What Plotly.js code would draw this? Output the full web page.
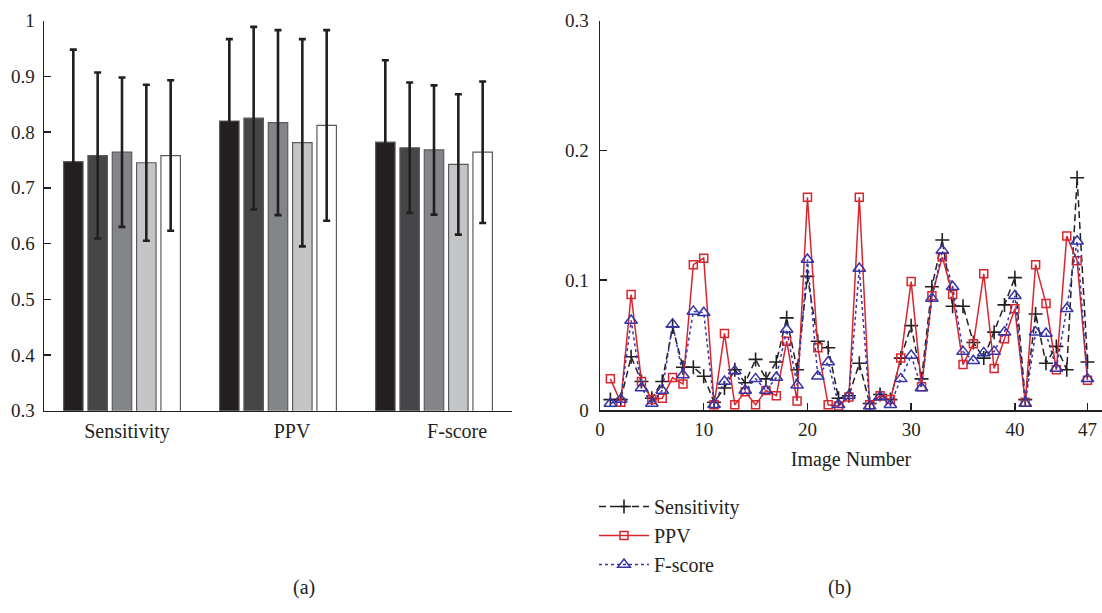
<!DOCTYPE html>
<html>
<head>
<meta charset="utf-8">
<script src="https://cdn.plot.ly/plotly-3.0.1.min.js"></script>
<style>html,body{margin:0;padding:0;background:#fff;}#chart{width:1102px;height:613px;}</style>
</head>
<body>
<div id="chart"></div>
<script>
// ---- Panel (a): bar chart data ----
const categories = ['Sensitivity', 'PPV', 'F-score'];
const method1 = [0.747, 0.820, 0.782];
const method2 = [0.758, 0.825, 0.772];
const method3 = [0.764, 0.817, 0.768];
const method4 = [0.745, 0.781, 0.742];
const method5 = [0.758, 0.812, 0.764];
const err1 = [0.201, 0.147, 0.147];
const err2 = [0.149, 0.164, 0.117];
const err3 = [0.134, 0.166, 0.116];
const err4 = [0.140, 0.186, 0.126];
const err5 = [0.135, 0.171, 0.127];
const leftYTicks = [0.3, 0.4, 0.5, 0.6, 0.7, 0.8, 0.9, 1];

// ---- Panel (b): per-image data ----
const imageNumbers = Array.from({length: 47}, (_, i) => i + 1);
const sensitivity = [0.008,0.008,0.041,0.022,0.009,0.022,0.064,0.033,0.033,0.026,
  0.006,0.017,0.031,0.021,0.039,0.024,0.037,0.071,0.031,0.103,
  0.053,0.048,0.009,0.011,0.036,0.005,0.012,0.008,0.040,0.065,
  0.024,0.095,0.131,0.080,0.080,0.052,0.040,0.060,0.081,0.102,
  0.008,0.074,0.036,0.049,0.031,0.179,0.037];
const ppv = [0.024,0.006,0.089,0.022,0.008,0.009,0.025,0.020,0.112,0.117,
  0.004,0.059,0.004,0.014,0.004,0.015,0.011,0.053,0.007,0.164,
  0.048,0.004,0.003,0.010,0.164,0.004,0.011,0.008,0.040,0.099,
  0.018,0.088,0.118,0.089,0.035,0.051,0.105,0.032,0.055,0.078,
  0.006,0.112,0.082,0.031,0.134,0.115,0.023];
const fscore = [0.005,0.008,0.069,0.017,0.005,0.015,0.066,0.027,0.076,0.075,
  0.004,0.022,0.030,0.015,0.024,0.015,0.025,0.062,0.019,0.116,
  0.026,0.037,0.004,0.011,0.109,0.003,0.010,0.004,0.024,0.042,
  0.017,0.086,0.123,0.095,0.045,0.038,0.044,0.045,0.060,0.088,
  0.005,0.060,0.059,0.032,0.078,0.130,0.024];
const rightXTicks = [0, 10, 20, 30, 40, 47];
const rightYTicks = [0, 0.1, 0.2, 0.3];

const FONT = "'Liberation Serif', 'Times New Roman', serif";
const INK = '#231f20';

const barColors = ['#231f20', '#464648', '#848589', '#c4c5c7', '#ffffff'];
const methods = [method1, method2, method3, method4, method5];
const errs = [err1, err2, err3, err4, err5];
const catIdx = categories.map((c, i) => i);

const traces = methods.map((vals, k) => ({
  type: 'bar',
  x: catIdx,
  y: vals,
  name: 'Method ' + (k + 1),
  showlegend: false,
  xaxis: 'x', yaxis: 'y',
  marker: {color: barColors[k], line: {color: '#5a5a5c', width: 1.2}},
  error_y: {type: 'data', array: errs[k], visible: true, color: INK, thickness: 2.6, width: 3.5}
}));

traces.push({
  type: 'scatter', mode: 'lines+markers', name: 'Sensitivity',
  x: imageNumbers, y: sensitivity, xaxis: 'x2', yaxis: 'y2',
  line: {color: INK, width: 1.5, dash: '7px,4px'},
  marker: {symbol: 'cross-thin-open', size: 10, line: {color: INK, width: 1.6}, color: INK}
});
traces.push({
  type: 'scatter', mode: 'lines+markers', name: 'PPV',
  x: imageNumbers, y: ppv, xaxis: 'x2', yaxis: 'y2',
  line: {color: '#d8262e', width: 1.5},
  marker: {symbol: 'square-open', size: 8, line: {color: '#d8262e', width: 1.5}, color: '#d8262e'}
});
traces.push({
  type: 'scatter', mode: 'lines+markers', name: 'F-score',
  x: imageNumbers, y: fscore, xaxis: 'x2', yaxis: 'y2',
  line: {color: '#3535a8', width: 1.5, dash: 'dot'},
  marker: {symbol: 'triangle-up-open', size: 11, line: {color: '#3535a8', width: 1.5}, color: '#3535a8'}
});

const W = 1102, H = 613;
const px = v => v / W;
const py = v => 1 - v / H;

const layout = {
  width: W, height: H,
  margin: {l: 0, r: 0, t: 0, b: 0},
  paper_bgcolor: '#fff', plot_bgcolor: '#fff',
  font: {family: FONT, size: 19, color: INK},
  barmode: 'group', bargap: 0.22, bargroupgap: 0.2,
  xaxis: {
    domain: [px(44), px(512)], range: [-0.5, 2.5], anchor: 'y',
    tickmode: 'array', tickvals: catIdx.map(i => i * 1.058 + 0.032), ticktext: categories,
    ticks: '', showgrid: false, zeroline: false,
    showline: true, linecolor: INK, linewidth: 1.5,
    tickfont: {size: 20, family: FONT, color: INK}, ticklabelstandoff: 2
  },
  yaxis: {
    domain: [py(410.7), py(20.7)], range: [0.3, 1.0], anchor: 'x',
    tickmode: 'array', tickvals: leftYTicks,
    ticks: 'inside', ticklen: 7, tickwidth: 1.5, tickcolor: INK,
    showgrid: false, zeroline: false,
    showline: true, linecolor: INK, linewidth: 1.5,
    tickfont: {size: 19, family: FONT, color: INK}, ticklabelstandoff: 4
  },
  xaxis2: {
    domain: [px(600), px(1102)], range: [0, 48.4], anchor: 'y2',
    tickmode: 'array', tickvals: rightXTicks,
    ticks: 'inside', ticklen: 7, tickwidth: 1.5, tickcolor: INK,
    showgrid: false, zeroline: false,
    showline: true, linecolor: INK, linewidth: 1.5,
    tickfont: {size: 19, family: FONT, color: INK}, ticklabelstandoff: 2,
    title: {text: 'Image Number', font: {size: 20, family: FONT, color: INK}, standoff: 12}
  },
  yaxis2: {
    domain: [py(410), py(20.7)], range: [0, 0.3], anchor: 'x2',
    tickmode: 'array', tickvals: rightYTicks,
    ticks: 'inside', ticklen: 7, tickwidth: 1.5, tickcolor: INK,
    showgrid: false, zeroline: false,
    showline: true, linecolor: INK, linewidth: 1.5,
    tickfont: {size: 19, family: FONT, color: INK}, ticklabelstandoff: 6
  },
  legend: {
    x: px(594), y: py(487), xanchor: 'left', yanchor: 'top',
    bgcolor: 'rgba(0,0,0,0)', font: {size: 20, family: FONT, color: INK},
    itemwidth: 50
  },
  annotations: [
    {text: '(a)', xref: 'paper', yref: 'paper', x: px(291), y: py(601), showarrow: false,
     font: {size: 20, family: FONT, color: INK}},
    {text: '(b)', xref: 'paper', yref: 'paper', x: px(853), y: py(601), showarrow: false,
     font: {size: 20, family: FONT, color: INK}}
  ]
};

Plotly.newPlot('chart', traces, layout, {displayModeBar: false, staticPlot: true});
</script>
</body>
</html>
